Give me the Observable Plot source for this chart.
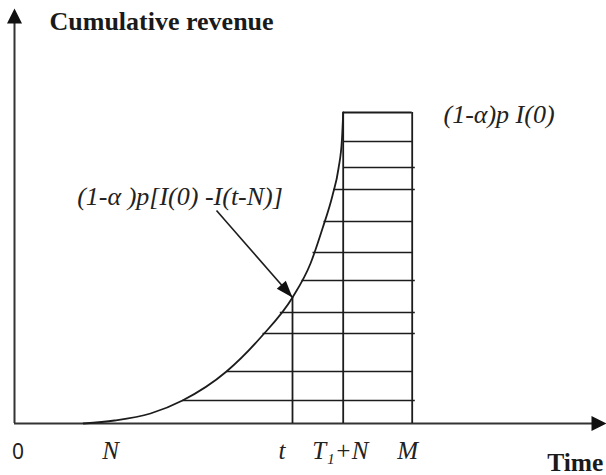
<!DOCTYPE html>
<html>
<head>
<meta charset="utf-8">
<script src="https://cdn.jsdelivr.net/npm/d3@7"></script>
<script src="https://cdn.jsdelivr.net/npm/@observablehq/plot@0.6"></script>
<style>
  html, body { margin: 0; padding: 0; background: #fff; }
  #chart svg { display: block; }
</style>
</head>
<body>
<div id="chart"></div>
<script>
// ---- Data (schematic units: time → right, cumulative revenue → up) ----
const axisTimeEnd = 592;
const axisRevenueEnd = 415;

// Key times on the time axis
const tN = 69, tT = 278, tT1N = 328.7, tM = 397.7;

// Cumulative revenue curve (1-α)p[I(0)-I(t-N)]
const curveTime    = [69, 100, 136, 168, 212, 247, 278, 296, 308, 318, 324, 327.5, 328.7];
const curveRevenue = [0, 3, 10, 23, 52, 87, 126, 160, 195, 228, 255, 285, 311];

// Total revenue level (1-α)pI(0)
const totalRevenue = 311;

// Hatch lines: revenue level, start time, end time
const hatchLevel = [23, 52, 90, 111, 143, 171, 202, 234, 256, 282];
const hatchStart = [167.7, 212, 248, 265.3, 287, 298, 309, 318.5, 328.7, 328.7];
const hatchEnd   = [400.3, 397.7, 400.3, 400.3, 400.3, 397.7, 397.7, 400.3, 400.3, 397.7];

// Annotation arrow start
const arrowFromTime = 202, arrowFromRevenue = 213;

// Tick labels under the time axis
const tickLabels = ["0", "N", "t", "T\u2081+N", "M"];
const tickLabelTime = [3.5, 87.7, 264, 297.7, 382.7];

// Text labels
const yTitle = "Cumulative revenue";
const xTitle = "Time";
const curveLabel = "(1-\u03b1 )p[I(0) -I(t-N)]";
const totalLabel = "(1-\u03b1)p I(0)";

// ---- Build tables ----
const curve = curveTime.map((t, i) => ({t, r: curveRevenue[i]}));
const hatch = hatchLevel.map((r, i) => ({r, x1: hatchStart[i], x2: hatchEnd[i]}));
const tipRevenueAtT = curveRevenue[curveTime.indexOf(tT)];
const verticals = [
  {t: tT, top: tipRevenueAtT},
  {t: tT1N, top: totalRevenue},
  {t: tM, top: totalRevenue}
];
const ticks = tickLabels.map((label, i) => ({label, t: tickLabelTime[i]}));
const annRot = Math.atan2(tT - arrowFromTime, tipRevenueAtT - arrowFromRevenue) * 180 / Math.PI;

const ink = "#1c1c1c";
const serif = "'Liberation Serif', 'Times New Roman', serif";

const chart = Plot.plot({
  width: 606,
  height: 475,
  margin: 0,
  x: {domain: [-14, 592], axis: null},
  y: {domain: [-52, 423], axis: null},
  style: {background: "#fff"},
  marks: [
    // axes
    Plot.ruleY([0], {x1: 0, x2: axisTimeEnd - 8, stroke: "#333", strokeWidth: 2}),
    Plot.ruleX([0], {y1: 0, y2: axisRevenueEnd - 8, stroke: "#333", strokeWidth: 2}),
    Plot.vector([{x: axisTimeEnd, y: 0}], {x: "x", y: "y", rotate: 90, length: 15, r: 7.5, shape: "spike", anchor: "end", fill: "#111", fillOpacity: 1, stroke: "none"}),
    Plot.vector([{x: 0, y: axisRevenueEnd}], {x: "x", y: "y", rotate: 0, length: 15, r: 7.5, shape: "spike", anchor: "end", fill: "#111", fillOpacity: 1, stroke: "none"}),
    // hatch lines
    Plot.link(hatch, {x1: "x1", x2: "x2", y1: "r", y2: "r", stroke: ink, strokeWidth: 1.7}),
    // rectangle top
    Plot.ruleY([totalRevenue], {x1: tT1N, x2: tM, stroke: ink, strokeWidth: 2}),
    // vertical lines
    Plot.ruleX(verticals, {x: "t", y1: 0, y2: "top", stroke: ink, strokeWidth: 1.8}),
    // revenue curve
    Plot.line(curve, {x: "t", y: "r", curve: "monotone-x", stroke: ink, strokeWidth: 1.8}),
    // annotation arrow
    Plot.link([{x1: arrowFromTime, y1: arrowFromRevenue, x2: tT, y2: tipRevenueAtT}], {x1: "x1", y1: "y1", x2: "x2", y2: "y2", stroke: ink, strokeWidth: 1.6}),
    Plot.vector([{x: tT, y: tipRevenueAtT}], {x: "x", y: "y", rotate: annRot, length: 17, r: 6, shape: "spike", anchor: "end", fill: "#111", fillOpacity: 1, stroke: "none"}),
    // tick labels
    Plot.text(ticks.slice(0, 1), {x: "t", y: -35, text: "label", textAnchor: "middle", lineAnchor: "bottom", fontFamily: "'Noto Sans', sans-serif", fontSize: 21, fill: "#222"}),
    Plot.text(ticks.slice(1), {x: "t", y: -35, text: "label", textAnchor: "start", lineAnchor: "bottom", fontFamily: serif, fontStyle: "italic", fontSize: 25, fill: "#222"}),
    // titles
    Plot.text([yTitle], {x: 35, y: 394, text: d => d, textAnchor: "start", lineAnchor: "bottom", fontFamily: serif, fontWeight: "bold", fontSize: 26, fill: "#1a1a1a"}),
    Plot.text([xTitle], {x: 532.7, y: -47, text: d => d, textAnchor: "start", lineAnchor: "bottom", fontFamily: serif, fontWeight: "bold", fontSize: 25.5, fill: "#1a1a1a"}),
    // annotations
    Plot.text([curveLabel], {x: 62.7, y: 219, text: d => d, textAnchor: "start", lineAnchor: "bottom", fontFamily: serif, fontStyle: "italic", fontSize: 26, fill: "#222"}),
    Plot.text([totalLabel], {x: 429, y: 301, text: d => d, textAnchor: "start", lineAnchor: "bottom", fontFamily: serif, fontStyle: "italic", fontSize: 26, fill: "#222"})
  ]
});
document.getElementById("chart").appendChild(chart);
</script>
</body>
</html>
